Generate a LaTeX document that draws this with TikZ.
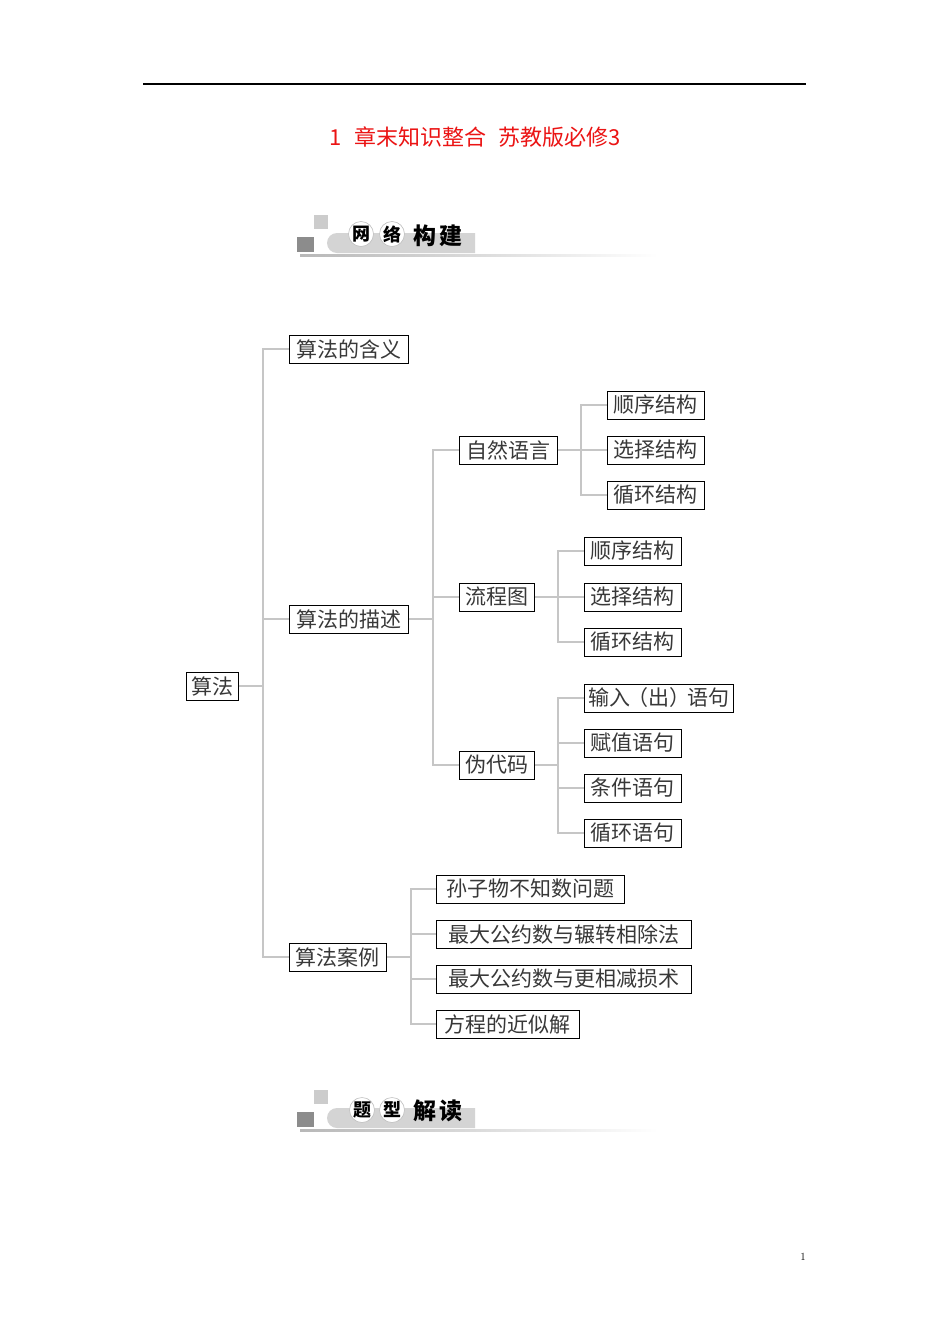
\documentclass[tikz,border=0pt]{standalone}
\usepackage{fontspec}
\newfontfamily\cjk{Noto Sans CJK SC}
\usetikzlibrary{shadows}
\definecolor{titlered}{RGB}{235,20,20}
\definecolor{linegray}{RGB}{198,198,198}
\tikzset{
  box/.style={draw=black, line width=0.8pt, fill=white, text=black!78,
    font=\cjk\fontsize{21}{24}\selectfont, inner xsep=3pt, inner ysep=0pt,
    minimum height=28pt, anchor=west,
    drop shadow={shadow xshift=1pt, shadow yshift=-1pt, fill=black, opacity=1}},
  conn/.style={draw=linegray, line width=1.4pt},
  hcircle/.style={circle, fill=white, draw=black!25, line width=0.6pt, minimum size=25pt,
    inner sep=0pt, font=\cjk\bfseries\fontsize{18}{18}\selectfont},
  htext/.style={font=\cjk\bfseries\fontsize{23}{23}\selectfont, text=black},
}
\newcommand\myhead[1]{%
  \fill[black!20] (314,#1-20) rectangle (328,#1-6);
  \fill[black!45] (297,#1+2) rectangle (314,#1+17);
  \shade[left color=black!28, right color=white] (300,#1+19) rectangle (658,#1+21.5);
  \begin{scope}
    \clip (320,#1-15) rectangle (475,#1+25);
    \fill[black!17, rounded corners=10pt] (327,#1-2) rectangle (510,#1+18);
  \end{scope}
}
\begin{document}
\begin{tikzpicture}[x=1pt,y=-1pt]
\useasboundingbox (0,0) rectangle (950,1344);
\fill[white] (0,0) rectangle (950,1344);
% top rule
\draw[line width=1.1pt, black] (143,84) -- (806,84);
% title
\node[font=\cjk\fontsize{22}{24}\selectfont, text=titlered] (title) at (475,137)
  {1\hspace{0.55em}章末知识整合\hspace{0.55em}苏教版必修3};
% header 1
\myhead{235}
\node[hcircle] (h1a) at (361,234) {网};
\node[hcircle] (h1b) at (392,234) {络};
\node[htext] (h1t) at (438,236) {构\,建};
% header 2
\myhead{1110}
\node[hcircle] (h2a) at (362,1110) {题};
\node[hcircle] (h2b) at (392,1110) {型};
\node[htext] (h2t) at (438,1111) {解\,读};

% tree nodes
\node[box, minimum width=52pt] (root) at (186,686) {算法};
\node[box, minimum width=119pt] (han) at (289,349) {算法的含义};
\node[box, minimum width=119pt] (miao) at (289,619) {算法的描述};
\node[box, minimum width=97pt] (anli) at (289,957) {算法案例};

\node[box, minimum width=98pt] (ziran) at (459,450) {自然语言};
\node[box, minimum width=75pt] (liu) at (459,597) {流程图};
\node[box, minimum width=75pt] (wei) at (459,765) {伪代码};

\node[box, minimum width=97pt] (za) at (607,405) {顺序结构};
\node[box, minimum width=97pt] (zb) at (607,450) {选择结构};
\node[box, minimum width=97pt] (zc) at (607,495) {循环结构};

\node[box, minimum width=97pt] (la) at (584,551) {顺序结构};
\node[box, minimum width=97pt] (lb) at (584,597) {选择结构};
\node[box, minimum width=97pt] (lc) at (584,642) {循环结构};

\node[box, minimum width=149pt, inner xsep=1pt] (wa) at (584,698) {输入\hspace{-0.15em}（出）\hspace{-0.15em}语句};
\node[box, minimum width=97pt] (wb) at (584,743) {赋值语句};
\node[box, minimum width=97pt] (wc) at (584,788) {条件语句};
\node[box, minimum width=97pt] (wd) at (584,833) {循环语句};

\node[box, minimum width=188pt] (aa) at (436,889) {孙子物不知数问题};
\node[box, minimum width=255pt] (ab) at (436,934) {最大公约数与辗转相除法};
\node[box, minimum width=255pt] (ac) at (436,979) {最大公约数与更相减损术};
\node[box, minimum width=143pt] (ad) at (436,1024) {方程的近似解};

% junctions
\coordinate (j0) at (263,686);
\coordinate (j1) at (433,619);
\coordinate (j2) at (581,450);
\coordinate (j3) at (558,597);
\coordinate (j4) at (558,765);
\coordinate (j5) at (411,957);

\draw[conn] (root.east) -- (j0);
\draw[conn] (j0) |- (han.west);
\draw[conn] (j0) |- (miao.west);
\draw[conn] (j0) |- (anli.west);

\draw[conn] (miao.east) -- (j1);
\draw[conn] (j1) |- (ziran.west);
\draw[conn] (j1) |- (liu.west);
\draw[conn] (j1) |- (wei.west);

\draw[conn] (ziran.east) -- (j2);
\draw[conn] (j2) |- (za.west);
\draw[conn] (j2) |- (zb.west);
\draw[conn] (j2) |- (zc.west);

\draw[conn] (liu.east) -- (j3);
\draw[conn] (j3) |- (la.west);
\draw[conn] (j3) |- (lb.west);
\draw[conn] (j3) |- (lc.west);

\draw[conn] (wei.east) -- (j4);
\draw[conn] (j4) |- (wa.west);
\draw[conn] (j4) |- (wb.west);
\draw[conn] (j4) |- (wc.west);
\draw[conn] (j4) |- (wd.west);

\draw[conn] (anli.east) -- (j5);
\draw[conn] (j5) |- (aa.west);
\draw[conn] (j5) |- (ab.west);
\draw[conn] (j5) |- (ac.west);
\draw[conn] (j5) |- (ad.west);

% page number
\node[font=\fontsize{11}{12}\selectfont] (pg) at (803,1257) {1};
\end{tikzpicture}
\end{document}
